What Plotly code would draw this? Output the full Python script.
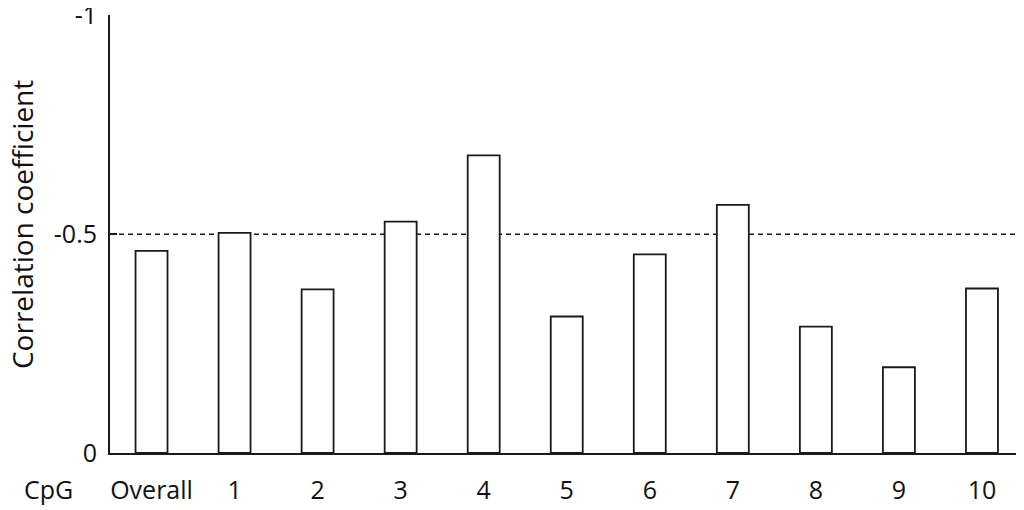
import plotly.graph_objects as go

categories = ["Overall", "1", "2", "3", "4", "5", "6", "7", "8", "9", "10"]
values = [-0.462, -0.503, -0.374, -0.529, -0.680, -0.312, -0.454, -0.567, -0.289, -0.196, -0.376]
threshold = -0.5
y_tickvals = [0, -0.5, -1]
y_ticktext = ["0", "-0.5", "-1"]

FONT = "Open Sans"
FS = 25
xpos = list(range(len(categories)))

# page body has an 8px margin; size the figure so the plot lands where the reference's does
OFF = 8

fig = go.Figure()
fig.add_trace(go.Bar(
    x=xpos, y=values, width=0.385,
    marker=dict(color="white", line=dict(color="#1a1a1a", width=1.8)),
    showlegend=False,
))

fig.add_shape(type="line", xref="paper", yref="y", x0=0, x1=1, y0=threshold, y1=threshold,
              line=dict(color="#1a1a1a", width=1.5, dash="5px,4px"), layer="below")

fig.update_layout(
    width=1024 - OFF, height=510 - OFF,
    margin=dict(l=110 - OFF, r=8, t=15 - OFF, b=57),
    paper_bgcolor="white", plot_bgcolor="white",
    font=dict(family=FONT, size=FS, color="#111"),
    xaxis=dict(
        range=[-0.5, 10.41], tickvals=xpos, ticktext=categories,
        showline=True, linecolor="#1a1a1a", linewidth=2, ticks="",
        showgrid=False, zeroline=False, ticklabelstandoff=14, automargin=False,
        tickfont=dict(family=FONT, size=FS),
    ),
    yaxis=dict(
        range=[0, -1.001], tickvals=y_tickvals, ticktext=y_ticktext,
        showline=True, linecolor="#1a1a1a", linewidth=2,
        ticks="inside", ticklen=7, tickwidth=1.5, tickcolor="#1a1a1a",
        showgrid=False, zeroline=False, automargin=False, ticklabelstandoff=6,
        ticklabeloverflow="allow",
        tickfont=dict(family=FONT, size=FS),
    ),
    annotations=[
        dict(text="CpG", xref="paper", yref="paper", x=-0.068, y=0, yshift=-36,
             xanchor="center", yanchor="middle", showarrow=False,
             font=dict(family=FONT, size=FS)),
        dict(text="Correlation coefficient", xref="paper", yref="paper", x=0, xshift=-88,
             y=0.5205, xanchor="center", yanchor="middle", textangle=-90, showarrow=False,
             font=dict(family=FONT, size=28)),
    ],
)

fig.write_html("out.html")
